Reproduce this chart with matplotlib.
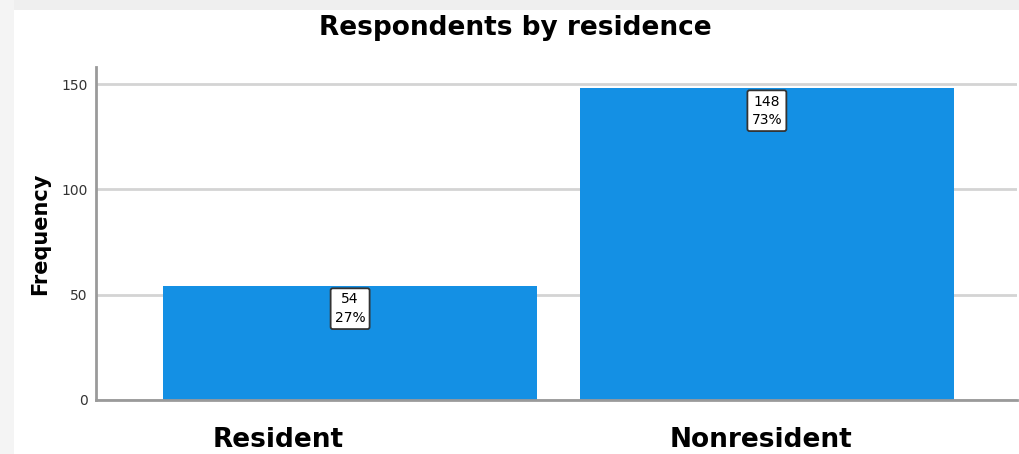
import matplotlib.pyplot as plt
from matplotlib.patches import Rectangle

categories = ["Resident", "Nonresident"]
counts = [54, 148]
percents = ["27%", "73%"]
yticks = [0, 50, 100, 150]

bar_color = "#1490e4"

fig = plt.figure(figsize=(10.2, 4.54), dpi=100)

# light window frame from the screenshot
fig.patches.append(Rectangle((0, 0.978), 1, 0.022, transform=fig.transFigure, fc="#efefef", ec="none"))
fig.patches.append(Rectangle((0, 0), 0.014, 1, transform=fig.transFigure, fc="#f4f4f4", ec="none"))

ax = fig.add_axes([0.094, 0.119, 0.903, 0.733])

ax.grid(axis="y", color="#d4d4d4", linewidth=2, zorder=0)
ax.bar(range(len(categories)), counts, width=0.898, color=bar_color, zorder=2)

# count / percent boxes just under the bar tops
for i, (c, p) in enumerate(zip(counts, percents)):
    ax.annotate(f"{c}\n{p}", xy=(i, c), xytext=(0, -4.5), textcoords="offset points",
                ha="center", va="top", fontsize=10, family="DejaVu Sans",
                linespacing=1.4, zorder=4,
                bbox=dict(boxstyle="round,pad=0.3,rounding_size=0.15", fc="white", ec="#333333", lw=1.3))

# category labels (SPSS puts them slightly left of the bar centre)
label_shift = [-52, -4.5]
for i, (cat, dx) in enumerate(zip(categories, label_shift)):
    ax.annotate(cat, xy=(i, 0), xytext=(dx, -33.8), textcoords="offset points",
                ha="center", va="baseline", fontsize=19, fontweight="bold",
                family="DejaVu Sans", annotation_clip=False)

ax.set_xlim(-0.61, 1.60)
ax.set_ylim(0, 158)
ax.set_yticks(yticks)
ax.set_xticks([])
ax.tick_params(axis="y", length=0, labelsize=10, labelcolor="#333333", pad=6)

for s in ["top", "right"]:
    ax.spines[s].set_visible(False)
for s in ["left", "bottom"]:
    ax.spines[s].set_color("#9a9a9a")
    ax.spines[s].set_linewidth(2)
    ax.spines[s].set_zorder(3)

ax.set_ylabel("Frequency", fontsize=15, fontweight="bold", family="DejaVu Sans", labelpad=8)
fig.text(0.505, 0.938, "Respondents by residence", ha="center", va="center",
         fontsize=19, fontweight="bold", family="DejaVu Sans")

fig.savefig("out.png", dpi=100)
